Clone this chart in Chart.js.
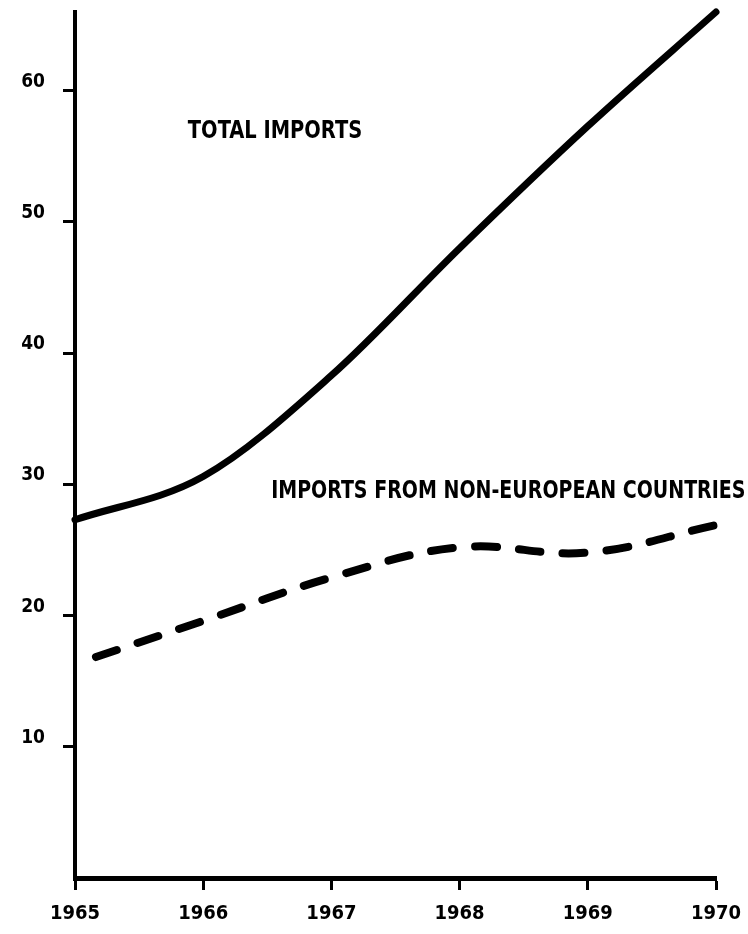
<!DOCTYPE html>
<html>
<head>
<meta charset="utf-8">
<script src="https://cdn.jsdelivr.net/npm/chart.js@4/dist/chart.umd.min.js"></script>
<style>
  html, body { margin: 0; padding: 0; background: #fff; }
  #wrap { width: 748px; height: 934px; position: relative; }
</style>
</head>
<body>
<div id="wrap"><canvas id="c" width="748" height="934"></canvas></div>
<script>
// ---- data ----
const years = ['1965', '1966', '1967', '1968', '1969', '1970'];
const totalImports = [27.3, 30.6, 38.3, 48.0, 57.3, 66.0];
const nonEuropeanImports = [16.3, 19.6, 22.9, 25.2, 24.8, 26.9];
const yTickValues = [10, 20, 30, 40, 50, 60];
const seriesLabels = ['TOTAL IMPORTS', 'IMPORTS FROM NON-EUROPEAN COUNTRIES'];

// text annotations (positions in data units: x = category index, y = value)
const annotations = [
  { text: seriesLabels[0], x: 0.88, y: 56.9, widthUnits: 1.36, size: 24 },
  { text: seriesLabels[1], x: 1.53, y: 29.4, widthUnits: 3.70, size: 24 }
];

const FONT = '"DejaVu Sans Condensed", "DejaVu Sans", sans-serif';

const textPlugin = {
  id: 'seriesText',
  afterDatasetsDraw(chart) {
    const ctx = chart.ctx;
    const xs = chart.scales.x, ys = chart.scales.y;
    const unit = xs.getPixelForValue(1) - xs.getPixelForValue(0);
    annotations.forEach(a => {
      ctx.save();
      ctx.font = `bold ${a.size}px ${FONT}`;
      ctx.fillStyle = '#000';
      ctx.textBaseline = 'middle';
      ctx.textAlign = 'left';
      const w = ctx.measureText(a.text).width;
      const px = xs.getPixelForValue(0) + a.x * unit;
      const py = ys.getPixelForValue(a.y);
      ctx.translate(px, py);
      ctx.scale((a.widthUnits * unit) / w, 1);
      ctx.fillText(a.text, 0, 0);
      ctx.restore();
    });
  }
};

new Chart(document.getElementById('c'), {
  type: 'line',
  data: {
    labels: years,
    datasets: [
      {
        label: seriesLabels[0],
        data: totalImports,
        borderColor: '#000',
        borderWidth: 7,
        borderCapStyle: 'round',
        borderJoinStyle: 'round',
        pointRadius: 0,
        cubicInterpolationMode: 'monotone',
        fill: false
      },
      {
        label: seriesLabels[1],
        data: nonEuropeanImports,
        borderColor: '#000',
        borderWidth: 8,
        borderDash: [22, 22],
        borderDashOffset: 22,
        borderCapStyle: 'round',
        pointRadius: 0,
        tension: 0.4,
        fill: false
      }
    ]
  },
  options: {
    responsive: false,
    animation: false,
    devicePixelRatio: 1,
    clip: false,
    layout: { padding: { left: 0, right: 32, top: 12, bottom: 0 } },
    plugins: {
      legend: { display: false },
      tooltip: { enabled: false },
      title: { display: false }
    },
    scales: {
      x: {
        type: 'category',
        offset: false,
        afterFit(scale) {
          scale.height = 56;
          scale.paddingLeft = 0;
          scale.paddingRight = 0;
        },
        border: { display: true, color: '#000', width: 5 },
        grid: { display: true, drawOnChartArea: false, drawTicks: true, tickLength: 12, tickWidth: 3, tickColor: '#000' },
        ticks: {
          color: '#000',
          padding: 12,
          maxRotation: 0,
          autoSkip: false,
          font: { family: FONT, size: 20, weight: 'bold' }
        }
      },
      y: {
        type: 'linear',
        min: 0,
        max: 66,
        afterFit(scale) {
          scale.width = 75;
          scale.paddingTop = 0;
          scale.paddingBottom = 0;
        },
        afterBuildTicks(scale) {
          scale.ticks = yTickValues.map(v => ({ value: v }));
        },
        border: { display: true, color: '#000', width: 4 },
        grid: { display: true, drawOnChartArea: false, drawTicks: true, tickLength: 12, tickWidth: 3, tickColor: '#000' },
        ticks: {
          color: '#000',
          padding: 18,
          labelOffset: -9,
          font: { family: FONT, size: 19, weight: 'bold' }
        }
      }
    }
  },
  plugins: [textPlugin]
});
</script>
</body>
</html>
